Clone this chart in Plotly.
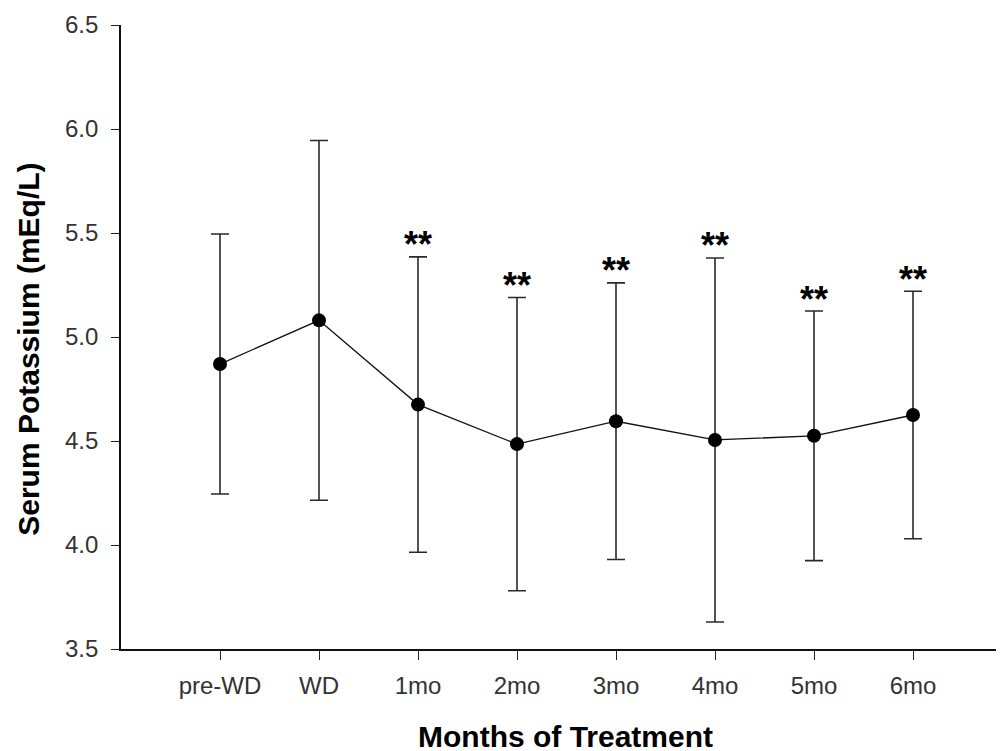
import plotly.graph_objects as go

categories = ["pre-WD", "WD", "1mo", "2mo", "3mo", "4mo", "5mo", "6mo"]
means = [4.87, 5.08, 4.675, 4.485, 4.595, 4.505, 4.525, 4.625]
sd = [0.625, 0.865, 0.71, 0.705, 0.665, 0.875, 0.60, 0.595]
significant = [False, False, True, True, True, True, True, True]
sig_label = "**"

y_ticks = [3.5, 4.0, 4.5, 5.0, 5.5, 6.0, 6.5]
y_ticklabels = ["3.5", "4.0", "4.5", "5.0", "5.5", "6.0", "6.5"]

x_title = "Months of Treatment"
y_title = "Serum Potassium (mEq/L)"

FONT = "Liberation Sans, Arial, sans-serif"

fig = go.Figure()
fig.add_trace(go.Scatter(
    x=categories, y=means, mode="lines+markers",
    line=dict(color="#111111", width=1.3),
    marker=dict(color="#000000", size=14),
    error_y=dict(type="data", array=sd, visible=True,
                 color="#2a2a2a", thickness=1.6, width=9),
    showlegend=False,
))

for c, m, s, sig in zip(categories, means, sd, significant):
    if sig:
        fig.add_annotation(
            x=c, y=m + s, text="<b>" + sig_label + "</b>", showarrow=False,
            xanchor="center", yanchor="middle", yshift=12,
            font=dict(family=FONT, size=36, color="#000000"),
        )

# axis titles as annotations for exact placement
fig.add_annotation(
    xref="paper", yref="paper", x=0.4994, y=-0.141,
    text="<b>" + x_title + "</b>", showarrow=False,
    xanchor="center", yanchor="middle",
    font=dict(family=FONT, size=30, color="#000000"),
)
fig.add_annotation(
    xref="paper", yref="paper", x=-0.1033, y=0.481,
    text="<b>" + y_title + "</b>", showarrow=False, textangle=-90,
    xanchor="center", yanchor="middle",
    font=dict(family=FONT, size=30, color="#000000"),
)

fig.update_layout(
    width=1004, height=751,
    margin=dict(l=113, r=0, t=17, b=110, autoexpand=False),
    paper_bgcolor="white", plot_bgcolor="white",
    font=dict(family=FONT, color="#333333"),
)
fig.update_xaxes(
    type="category", range=[-1, 8], automargin=False,
    showline=True, linecolor="#111111", linewidth=1.6,
    ticks="outside", ticklen=9, tickwidth=1.3, tickcolor="#222222",
    showgrid=False, zeroline=False,
    tickfont=dict(family=FONT, size=24, color="#333333"),
    ticklabelstandoff=5,
)
fig.update_yaxes(
    range=[3.5, 6.5], tickvals=y_ticks, ticktext=y_ticklabels, automargin=False,
    showline=True, linecolor="#111111", linewidth=1.6,
    ticks="outside", ticklen=8, tickwidth=1.3, tickcolor="#222222",
    showgrid=False, zeroline=False,
    tickfont=dict(family=FONT, size=24, color="#333333"),
    ticklabelstandoff=8,
)

fig.write_html("out.html")
